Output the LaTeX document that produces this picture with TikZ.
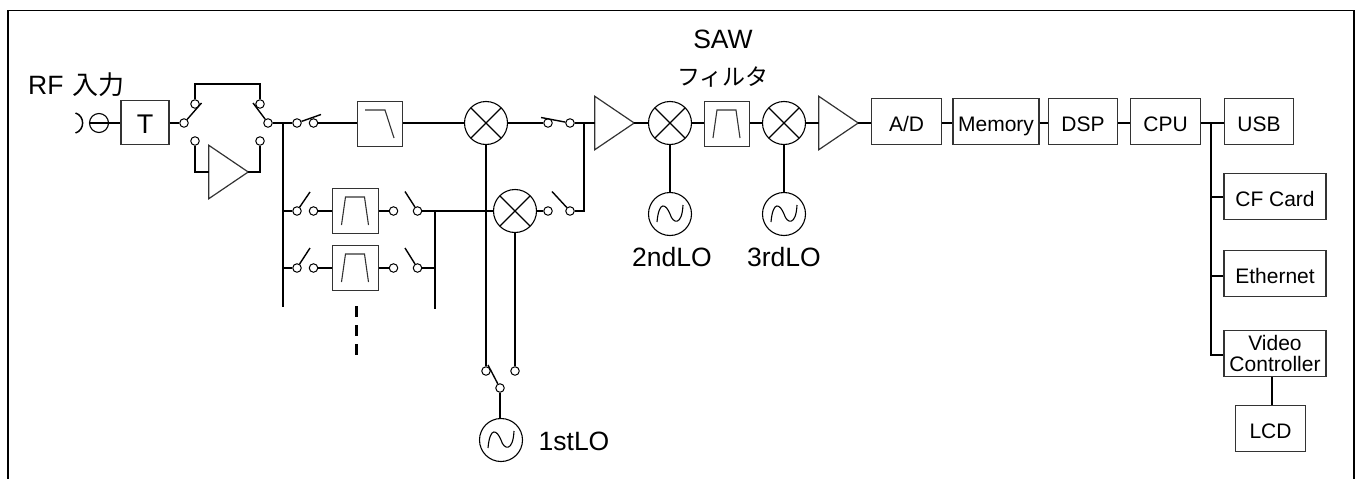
\documentclass[tikz,border=0pt]{standalone}
\usepackage{fontspec}
\setmainfont{Liberation Sans}
\newfontfamily\cjk{Noto Sans CJK JP}
\newcommand{\bigtxt}{\fontsize{26.5}{28}\selectfont}
\newcommand{\boxtxt}{\fontsize{21}{21}\selectfont}
\begin{document}
\begin{tikzpicture}[x=1pt,y=-1pt,
  wire/.style={line width=1.7pt,black},
  blade/.style={line width=1.4pt,black},
  term/.style={circle,draw=black,fill=white,line width=1pt,minimum size=8.5pt,inner sep=0pt},
  blockbox/.style={rectangle,draw=black!80,line width=1.2pt,minimum width=#1,inner sep=0pt,minimum height=45.5pt,align=center,font=\boxtxt,text height=19pt,text depth=0pt},
  blockbox/.default=69.5pt,
  mixer/.style={circle,draw=black,line width=1.1pt,minimum size=43pt,inner sep=0pt,
    path picture={\draw[line width=1.1pt] (path picture bounding box.north west) -- (path picture bounding box.south east)
      (path picture bounding box.north east) -- (path picture bounding box.south west);}},
  osc/.style={circle,draw=black,line width=1.1pt,minimum size=43pt,inner sep=0pt,
    path picture={\draw[line width=1.1pt,shift={(path picture bounding box.center)}]
      (-13,8) .. controls (-11,-14) and (-4,-10) .. (0,0) .. controls (3,10) and (12,12) .. (13,-9);}},
  bpf/.style={rectangle,draw=black!80,line width=1.2pt,minimum width=45.5pt,minimum height=45.5pt,inner sep=0pt,
    path picture={\draw[line width=1.1pt,shift={(path picture bounding box.center)}]
      (-14,14) -- (-10,-14) -- (9,-14) -- (13,14);}},
  lpf/.style={rectangle,draw=black!80,line width=1.2pt,minimum width=45.5pt,minimum height=45.5pt,inner sep=0pt,
    path picture={\draw[line width=1.1pt,shift={(path picture bounding box.center)}]
      (-15,-14) -- (5,-14) -- (14,14);}},
  ampbox/.style={rectangle,minimum width=39pt,minimum height=53pt,inner sep=0pt},
  tri/.style={line width=1.2pt,draw=black!80,line join=miter},
  lab/.style={font=\bigtxt,inner sep=0pt},
]
\useasboundingbox (0,0) rectangle (1360,479);
% frame
\coordinate (fbl) at (8,479); \coordinate (ftl) at (8,10.5);
\coordinate (ftr) at (1354,10.5); \coordinate (fbr) at (1354,479);
\draw[line width=1.8pt] (fbl) -- (ftl) -- (ftr) -- (fbr);

% labels
\node[lab,anchor=west] (rflab) at (28,85) {RF\hspace{2pt} {\cjk\fontsize{26}{26}\selectfont 入力}};
\node[lab] (sawlab) at (723,39) {SAW};
\node[lab] (filtlab) at (723,77) {\cjk\fontsize{23}{24}\selectfont フィルタ};
\node[lab] (lo1lab) at (574,441) {1stLO};
\node[lab] (lo2lab) at (672,257) {2ndLO};
\node[lab] (lo3lab) at (784,257) {3rdLO};

% input
\coordinate (ca) at (75.5,113); \coordinate (cb) at (75.5,133);
\coordinate (cc) at (85,116); \coordinate (cd) at (85,130);
\draw[line width=1.5pt] (ca) .. controls (cc) and (cd) .. (cb);
\node[circle,draw=black,line width=1.1pt,minimum size=19pt,inner sep=0pt] (conn) at (99,123) {};
\node[blockbox=48pt,minimum height=44pt,font=\fontsize{27}{27}\selectfont,text height=22pt] (T) at (145,122.5) {T};
\draw[wire] (conn.west) -- (conn.west -| T.west);

% bypass switches
\node[term] (s1c) at (184,123) {};
\node[term] (s1u) at (195,104) {};
\node[term] (s1l) at (195,141) {};
\node[term] (s2c) at (268,123) {};
\node[term] (s2u) at (260,104) {};
\node[term] (s2l) at (260,141) {};
\coordinate (b1) at (201.5,103); \coordinate (b2) at (253,103);
\draw[blade] (s1c) -- (b1);
\draw[blade] (s2c) -- (b2);
\draw[wire] (s1c -| T.east) -- (s1c);
\coordinate (top) at (227,84);
\draw[wire] (s1u.north) |- (top) -| (s2u.north);
\node[ampbox] (ampA) at (228.5,172) {};
\draw[tri] (ampA.north west) -- (ampA.east) -- (ampA.south west) -- cycle;
\draw[wire] (s1l.south) |- (ampA.west);
\draw[wire] (s2l.south) |- (ampA.east);

% bus 1
\coordinate (j1) at (283,123); \coordinate (bus1b) at (283,307);
\draw[wire] (s2c) -- (j1);
\draw[wire] (j1) -- (bus1b);

% top path
\node[term] (s3a) at (297,123) {};
\node[term] (s3b) at (313.5,123) {};
\coordinate (b3) at (321,114.5);
\draw[blade] (s3a) -- (b3);
\draw[wire] (j1) -- (s3a);
\node[lpf] (lpf) at (380,124) {};
\draw[wire] (s3b) -- (s3b -| lpf.west);
\node[mixer] (mx1) at (486,123) {};
\draw[wire] (mx1.west -| lpf.east) -- (mx1.west);
\node[term] (s4a) at (548,123) {};
\node[term] (s4b) at (570,123) {};
\coordinate (b4) at (541,117.5);
\draw[blade] (s4b) -- (b4);
\draw[wire] (mx1.east) -- (s4a);

% filter bank row 1
\coordinate (j2) at (283,211); \coordinate (j3) at (283,268);
\node[term] (f1a) at (297,211) {};
\node[term] (f1b) at (313.5,211) {};
\coordinate (bf1) at (310,192);
\draw[blade] (f1a) -- (bf1);
\draw[wire] (j2) -- (f1a);
\node[bpf] (bp1) at (355.5,211) {};
\draw[wire] (f1b) -- (bp1.west);
\node[term] (f1c) at (393.5,211) {};
\draw[wire] (bp1.east) -- (f1c);
\node[term] (f1d) at (417.5,211) {};
\coordinate (bf1r) at (405,191.5);
\draw[blade] (f1d) -- (bf1r);

% filter bank row 2
\node[term] (f2a) at (297,268) {};
\node[term] (f2b) at (313.5,268) {};
\coordinate (bf2) at (310,248);
\draw[blade] (f2a) -- (bf2);
\draw[wire] (j3) -- (f2a);
\node[bpf] (bp2) at (355.5,268) {};
\draw[wire] (f2b) -- (bp2.west);
\node[term] (f2c) at (393.5,268) {};
\draw[wire] (bp2.east) -- (f2c);
\node[term] (f2d) at (417.5,268) {};
\coordinate (bf2r) at (405,248);
\draw[blade] (f2d) -- (bf2r);

% bus 2
\coordinate (j4) at (435,211); \coordinate (j5) at (435,268); \coordinate (bus2b) at (435,309);
\draw[wire] (j4) -- (bus2b);
\draw[wire] (f2d) -- (j5);

% dashes
\coordinate (da) at (356,306); \coordinate (db) at (356,354.5);
\draw[line width=3pt,dash pattern=on 11pt off 8pt] (da) -- (db);

% mixer 2
\node[mixer] (mx2) at (515,211) {};
\draw[wire] (f1d) -- (mx2.west);
\node[term] (s5a) at (548,211) {};
\node[term] (s5b) at (570,211) {};
\coordinate (b5) at (552,191.5);
\draw[blade] (s5b) -- (b5);
\draw[wire] (mx2.east) -- (s5a);

% 1st LO
\node[term] (s6a) at (486,371) {};
\node[term] (s6b) at (515,371) {};
\node[term] (s6c) at (500,388) {};
\coordinate (b6) at (488,365);
\draw[wire] (mx1.south) -- (s6a.north);
\draw[wire] (mx2.south) -- (s6b.north);
\draw[blade] (s6c) -- (b6);
\node[osc] (lo1) at (501,440) {};
\draw[wire] (s6c.south) -- (lo1.north -| s6c.south);

% IF chain
\node[ampbox] (ampB) at (614.5,123) {};
\draw[tri] (ampB.north west) -- (ampB.east) -- (ampB.south west) -- cycle;
\coordinate (j6) at (584,123);
\draw[wire] (s4b) -- (ampB.west);
\draw[wire] (j6) |- (s5b.east);
\node[mixer] (mx3) at (670,123) {};
\draw[wire] (ampB.east) -- (mx3.west);
\node[bpf] (saw) at (727,124) {};
\draw[wire] (mx3.east) -- (mx3.east -| saw.west);
\node[mixer] (mx4) at (784,123) {};
\draw[wire] (mx4.west -| saw.east) -- (mx4.west);
\node[ampbox] (ampC) at (838.5,123) {};
\draw[tri] (ampC.north west) -- (ampC.east) -- (ampC.south west) -- cycle;
\draw[wire] (mx4.east) -- (ampC.west);
\node[osc] (lo2) at (670,214) {};
\node[osc] (lo3) at (784,214) {};
\draw[wire] (mx3.south) -- (lo2.north);
\draw[wire] (mx4.south) -- (lo3.north);

% digital
\node[blockbox] (ad) at (906.5,121.5) {A/D};
\node[blockbox=86pt] (mem) at (996,121.5) {Memory};
\node[blockbox] (dsp) at (1083,121.5) {DSP};
\node[blockbox] (cpu) at (1165.5,121.5) {CPU};
\node[blockbox] (usb) at (1259,121.5) {USB};
\node[blockbox=102pt] (cf) at (1275,196.5) {CF Card};
\node[blockbox=102pt] (eth) at (1275,273.5) {Ethernet};
\node[blockbox=102pt,text height=,text depth=] (vid) at (1275,353.5) {Video\\Controller};
\node[blockbox] (lcd) at (1270.5,428.5) {LCD};
\draw[wire] (ampC.east) -- (ampC.east -| ad.west);
\coordinate (rail) at (0,123);
\draw[wire] (ad.east |- rail) -- (mem.west |- rail);
\draw[wire] (mem.east |- rail) -- (dsp.west |- rail);
\draw[wire] (dsp.east |- rail) -- (cpu.west |- rail);
\draw[wire] (cpu.east |- rail) -- (usb.west |- rail);
\coordinate (j7) at (1211,123);
\coordinate (j10) at (1211,355);
\draw[wire] (j7) -- (j10) -- (j10 -| vid.west);
\coordinate (j8) at (1211,197); \coordinate (j9) at (1211,276);
\draw[wire] (j8) -- (cf.west |- j8);
\draw[wire] (j9) -- (eth.west |- j9);
\draw[wire] ([xshift=-3pt]vid.south) -- ([xshift=-3pt]vid.south |- lcd.north);
\end{tikzpicture}
\end{document}
